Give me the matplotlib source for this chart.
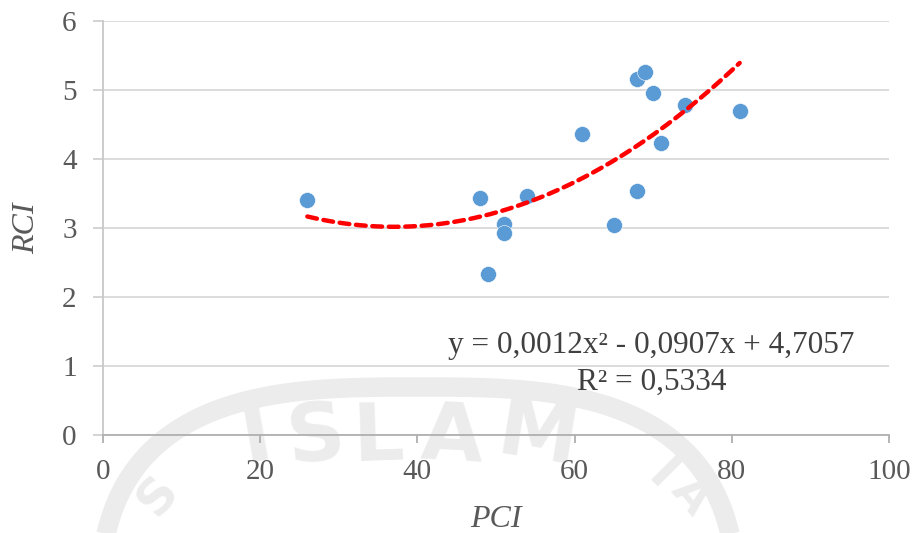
import numpy as np
import matplotlib
matplotlib.use('Agg')
import matplotlib.pyplot as plt

pci = [26, 48, 49, 51, 51, 54, 61, 65, 68, 69, 68, 70, 71, 74, 81]
rci = [3.41, 3.43, 2.33, 3.06, 2.93, 3.46, 4.36, 3.04, 5.16, 5.26, 3.54, 4.96, 4.23, 4.78, 4.70]

x_ticks = [0, 20, 40, 60, 80, 100]
y_ticks = [0, 1, 2, 3, 4, 5, 6]
eq_text = "y = 0,0012x² - 0,0907x + 4,7057"
r2_text = "R² = 0,5334"

W, H = 917, 533
GREY = '#595959'
SERIF = ['Liberation Serif', 'DejaVu Serif']

fig = plt.figure(figsize=(W / 100, H / 100), dpi=100)

# faint watermark logo behind the chart, drawn in pixel coords
bg = fig.add_axes([0, 0, 1, 1], zorder=0)
bg.set_xlim(0, W); bg.set_ylim(H, 0); bg.axis('off')
wm = '#ececec'
t = np.linspace(np.pi, 2 * np.pi, 300)
ring_x = 418 + 320 * np.sign(np.cos(t)) * np.abs(np.cos(t)) ** (2 / 3)
ring_y = 640 + 253 * np.sign(np.sin(t)) * np.abs(np.sin(t)) ** (2 / 3)
bg.plot(ring_x, ring_y, color=wm, lw=14, solid_capstyle='butt')
for ch, px, rot in [('I', 257, 10), ('S', 316, 6), ('L', 378, 2), ('A', 452, -3), ('M', 538, -9)]:
    bg.text(px, 438, ch, fontsize=58, fontweight='bold', color=wm, ha='center',
            va='center', rotation=rot, family='DejaVu Sans')
bg.text(158, 496, 'S', fontsize=36, fontweight='bold', color=wm, ha='center', va='center',
        rotation=50, family='DejaVu Sans')
bg.text(662, 476, 'I', fontsize=36, fontweight='bold', color=wm, ha='center', va='center',
        rotation=-45, family='DejaVu Sans')
bg.text(690, 496, 'A', fontsize=32, fontweight='bold', color=wm, ha='center', va='center',
        rotation=-50, family='DejaVu Sans')

ax = fig.add_axes([103 / W, 1 - 435 / H, (889 - 103) / W, (435 - 21) / H], zorder=1)
ax.set_facecolor('none')

ax.set_xlim(0, 100)
ax.set_ylim(0, 6)
ax.set_xticks(x_ticks)
ax.set_yticks(y_ticks)
ax.yaxis.grid(True, color='#d9d9d9', lw=1.3)
ax.set_axisbelow(True)
for s in ('top', 'right'):
    ax.spines[s].set_visible(False)
ax.spines['left'].set_color('#c8c8c8'); ax.spines['left'].set_linewidth(1.3)
ax.spines['bottom'].set_color('#b0b0b0'); ax.spines['bottom'].set_linewidth(1.3)
ax.tick_params(axis='y', length=7, width=1.3, color='#d0d0d0', pad=12,
               labelsize=21, labelcolor=GREY)
ax.tick_params(axis='x', length=6, width=1.3, color='#b0b0b0', pad=11,
               labelsize=21, labelcolor=GREY)
for lab in ax.get_xticklabels() + ax.get_yticklabels():
    lab.set_family(SERIF)

# scatter
ax.plot(pci, rci, 'o', color='#5b9bd5', ms=11.5, mec='white', mew=0.4, zorder=3)

# polynomial (order 2) trend line
coef = np.polyfit(pci, rci, 2)
xs = np.linspace(min(pci), max(pci), 200)
ax.plot(xs, np.polyval(coef, xs), color='#ff0000', lw=3.2, ls=(0, (2.2, 1.5)),
        dash_capstyle='round', zorder=4)

ax.text(69.8, 1.19, eq_text, ha='center', va='baseline', fontsize=22.5, color='#404040', family=SERIF)
ax.text(69.8, 0.65, r2_text, ha='center', va='baseline', fontsize=22.5, color='#404040', family=SERIF)

ax.set_xlabel('PCI', fontsize=23, color=GREY, style='italic', family=SERIF, labelpad=15)
ax.set_ylabel('RCI', fontsize=23, color=GREY, style='italic', family=SERIF, labelpad=15)

fig.savefig('out.png', dpi=100)
